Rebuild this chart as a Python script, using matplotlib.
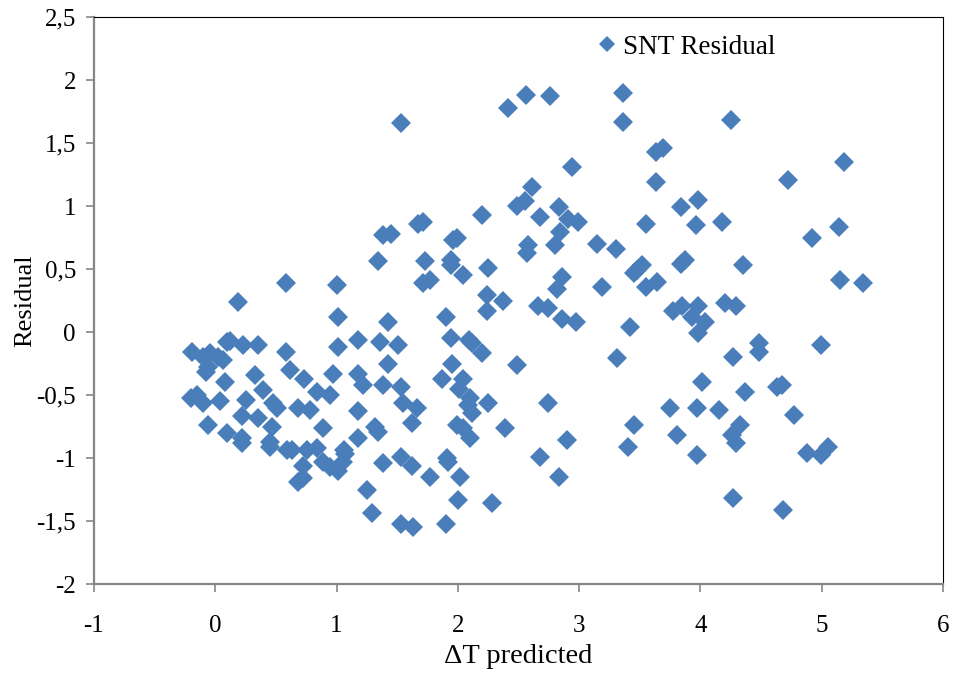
import matplotlib
matplotlib.use("Agg")
import matplotlib.pyplot as plt
from matplotlib.ticker import FuncFormatter

# data
dt_pred = [
    -0.19, -0.10, -0.04, 0.02, 0.06, 0.10, 0.12, 0.23, 0.35, 0.58,
    0.19, 0.58, 1.00, 1.01, 1.18, 1.01, -0.08, -0.06, 0.33, 0.62,
    0.73, 0.97, 1.18, 1.22, 0.08, 0.39, 0.84, 0.95, -0.20, -0.15,
    -0.10, 0.04, 0.25, 0.48, 0.51, 0.68, 0.78, 1.18, 0.22, 0.35,
    -0.06, 0.47, 0.89, 0.10, 0.22, 0.22, 0.45, 0.45, 1.18, 0.59,
    0.63, 0.76, 0.84, 1.06, 1.07, 0.72, 0.89, 0.95, 1.01, 1.05,
    0.72, 0.68, 1.25, 1.29,
    1.53, 1.38, 1.45, 1.67, 1.71, 1.34, 1.73, 1.96, 1.99, 1.94,
    1.94, 2.04, 2.25, 1.71, 1.77, 2.20, 2.24, 2.37, 2.24, 1.90,
    1.42, 1.36, 1.51, 1.94, 2.09, 2.12, 2.20, 1.42, 1.95, 2.49,
    1.38, 1.53, 1.87, 2.04, 2.01, 1.55, 1.66, 2.10, 2.08, 2.12,
    2.25, 2.74, 1.32, 1.34, 1.62, 1.99, 2.04, 2.10, 2.39, 1.38,
    1.53, 1.62, 1.91, 1.92, 2.68, 1.77, 2.02, 2.00, 2.28, 1.53,
    1.63, 1.90,
    2.41, 2.56, 2.76, 3.36, 3.36, 3.63, 3.69, 3.63, 2.94, 2.61,
    2.49, 2.55, 2.83, 2.68, 2.91, 2.99, 2.84, 3.55, 3.84, 2.58,
    2.57, 2.80, 3.15, 3.30, 3.48, 3.52, 3.84, 3.87, 2.86, 2.82,
    2.66, 2.74, 2.86, 2.97, 3.19, 3.45, 3.55, 3.64, 3.77, 3.42,
    3.31, 3.75, 2.90, 3.45, 3.40, 3.81, 2.83,
    4.25, 5.18, 4.72, 3.98, 3.96, 4.18, 5.14, 4.92, 4.35, 5.15,
    5.34, 3.85, 3.93, 3.98, 4.04, 3.98, 4.20, 4.29, 4.48, 4.48,
    4.99, 4.27, 4.01, 4.37, 4.63, 4.67, 3.97, 4.15, 4.77, 4.33,
    4.26, 4.29, 3.97, 4.88, 4.99, 5.05, 4.27, 4.68,
]
residual = [
    -0.16, -0.20, -0.17, -0.20, -0.22, -0.08, -0.07, -0.10, -0.10, -0.16,
    0.24, 0.39, 0.37, 0.12, -0.06, -0.12, -0.32, -0.28, -0.34, -0.30,
    -0.37, -0.33, -0.33, -0.42, -0.40, -0.46, -0.48, -0.50, -0.52, -0.50,
    -0.56, -0.55, -0.54, -0.56, -0.60, -0.60, -0.62, -0.63, -0.67, -0.68,
    -0.74, -0.75, -0.76, -0.80, -0.84, -0.88, -0.87, -0.91, -0.84, -0.94,
    -0.94, -0.94, -0.92, -0.94, -0.97, -1.06, -1.03, -1.07, -1.10, -1.03,
    -1.16, -1.19, -1.25, -1.44,
    1.66, 0.77, 0.78, 0.86, 0.87, 0.56, 0.56, 0.73, 0.75, 0.57,
    0.53, 0.45, 0.51, 0.39, 0.41, 0.93, 0.29, 0.25, 0.17, 0.12,
    0.08, -0.08, -0.10, -0.05, -0.06, -0.09, -0.17, -0.25, -0.25, -0.26,
    -0.42, -0.44, -0.37, -0.37, -0.45, -0.56, -0.60, -0.52, -0.58, -0.64,
    -0.56, -0.56, -0.75, -0.79, -0.72, -0.74, -0.76, -0.84, -0.76, -1.04,
    -0.99, -1.06, -1.00, -1.03, -0.99, -1.15, -1.15, -1.33, -1.36, -1.52,
    -1.55, -1.52,
    1.78, 1.88, 1.87, 1.90, 1.67, 1.43, 1.46, 1.19, 1.31, 1.15,
    1.00, 1.04, 0.99, 0.91, 0.90, 0.87, 0.79, 0.86, 0.99, 0.69,
    0.63, 0.69, 0.70, 0.66, 0.49, 0.53, 0.54, 0.57, 0.44, 0.34,
    0.21, 0.19, 0.10, 0.08, 0.36, 0.47, 0.36, 0.40, 0.17, 0.04,
    -0.21, -0.60, -0.86, -0.74, -0.91, -0.82, -1.15,
    1.68, 1.35, 1.21, 1.05, 0.85, 0.87, 0.83, 0.75, 0.53, 0.41,
    0.39, 0.21, 0.12, 0.21, 0.08, -0.01, 0.23, 0.21, -0.09, -0.16,
    -0.10, -0.20, -0.40, -0.48, -0.44, -0.42, -0.60, -0.62, -0.66, -0.74,
    -0.82, -0.88, -0.98, -0.96, -0.98, -0.91, -1.32, -1.41,
]

plt.rcParams['font.family'] = ['Liberation Serif', 'DejaVu Serif']

fig = plt.figure(figsize=(9.54, 6.75), dpi=100)
ax = fig.add_axes([0.0985, 0.1348, 0.89, 0.84])

ax.plot(dt_pred, residual, linestyle='none', marker='D', markersize=10.5,
        color='#4a7ebb', markeredgewidth=0, label='SNT Residual')

ax.set_xlim(-1, 6)
ax.set_ylim(-2, 2.5)
ax.set_xticks(range(-1, 7))
ax.set_yticks([-2, -1.5, -1, -0.5, 0, 0.5, 1, 1.5, 2, 2.5])

def comma_fmt(v, pos):
    s = ('%g' % v).replace('.', ',')
    return s

ax.xaxis.set_major_formatter(FuncFormatter(comma_fmt))
ax.yaxis.set_major_formatter(FuncFormatter(comma_fmt))

ax.tick_params(axis='both', direction='out', length=6, width=1.2,
               color='#868686', labelsize=18)
ax.tick_params(axis='x', pad=16)
ax.tick_params(axis='y', pad=7)

for side in ['left', 'bottom']:
    ax.spines[side].set_color('#868686')
    ax.spines[side].set_linewidth(1.6)
for side in ['top', 'right']:
    ax.spines[side].set_color('#000000')
    ax.spines[side].set_linewidth(0.8)

ax.set_xlabel('\u0394T predicted', fontsize=20.5)
ax.set_ylabel('Residual', fontsize=19)
ax.xaxis.set_label_coords(0.5, -0.105)
ax.yaxis.set_label_coords(-0.068, 0.5)

ax.legend(loc='upper left', bbox_to_anchor=(0.572, 0.988), frameon=False,
          fontsize=19.5, handletextpad=0.0, markerscale=0.75,
          borderaxespad=0, handlelength=1.2)

fig.savefig('out.png', dpi=100)
